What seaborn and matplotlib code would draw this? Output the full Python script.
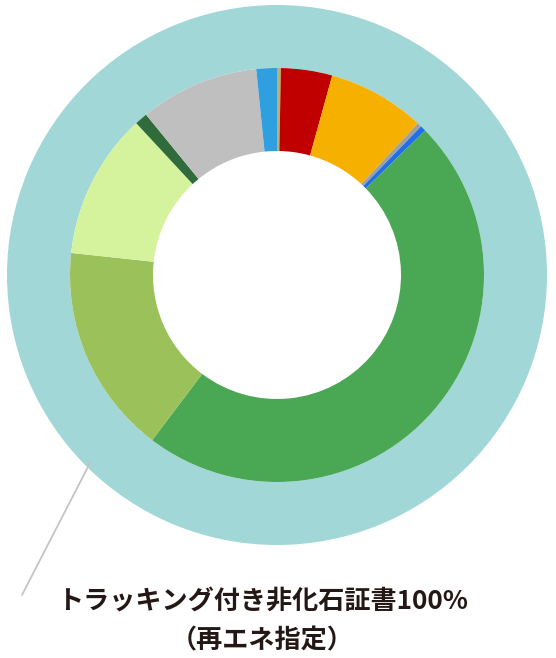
import matplotlib
matplotlib.use("Agg")
import matplotlib.pyplot as plt
from matplotlib.lines import Line2D
import seaborn as sns

# 電源構成（内側リング）: 12時から時計回り
labels = ["その他", "石炭", "LNG", "石油", "原子力", "再エネ(太陽光)",
          "再エネ(水力)", "再エネ(風力)", "再エネ(地熱)", "FIT電気", "卸電力取引所"]
shares = [0.3, 4.0, 7.6, 0.35, 0.45, 47.6, 16.4, 11.4, 1.0, 9.3, 1.6]
colors = ["#b9b26a", "#c00000", "#f6b000", "#a0a0a0", "#1f6fe8", "#4aa753",
          "#9bc15a", "#d5f29c", "#2f6b3b", "#bfbfbf", "#2f9fe0"]

# 外側リング
outer_share = [100]
outer_color = ["#a1d7d6"]

title_line1 = "トラッキング付き非化石証書100%"
title_line2 = "（再エネ指定）"

sns.set_theme(style="white")
plt.rcParams["font.family"] = ["Noto Sans CJK JP", "DejaVu Sans"]

W, H = 556, 658
fig = plt.figure(figsize=(W / 100, H / 100), dpi=100)
fig.patch.set_facecolor("white")

cx, cy, R = 277, 275, 270
ax = fig.add_axes([(cx - R) / W, (H - cy - R) / H, 2 * R / W, 2 * R / H])
ax.set_xlim(-1, 1)
ax.set_ylim(-1, 1)
ax.set_aspect("equal")
ax.axis("off")

r_mid = 207 / R
r_hole = 124 / R

ax.pie(outer_share, colors=outer_color, radius=1.0, startangle=90,
       wedgeprops=dict(width=1.0 - r_mid, linewidth=0))
ax.pie(shares, colors=colors, radius=r_mid, startangle=90, counterclock=False,
       wedgeprops=dict(width=r_mid - r_hole, linewidth=0))
ax.set_xlim(-1, 1)
ax.set_ylim(-1, 1)

# 引き出し線
fig.add_artist(Line2D([91 / W, 22 / W], [1 - 461 / H, 1 - 595 / H],
                      transform=fig.transFigure, color="#c4c4c4", lw=1.3))

fig.text(263 / W, 1 - 601 / H, title_line1, ha="center", va="center",
         fontsize=18.8, fontweight="bold", color="#231815")
fig.text(262 / W, 1 - 641 / H, title_line2, ha="center", va="center",
         fontsize=18.8, fontweight="bold", color="#231815")

fig.savefig("out.png", dpi=100, facecolor="white")
